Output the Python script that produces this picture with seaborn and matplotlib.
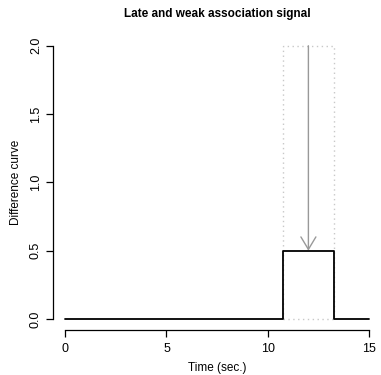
import numpy as np
import pandas as pd
import seaborn as sns
import matplotlib
matplotlib.use('Agg')
import matplotlib.pyplot as plt
from matplotlib.patches import Rectangle

# data: step curve breakpoints
time_sec = [0, 10.75, 13.25, 15]
diff_curve = [0.0, 0.5, 0.0, 0.0]
# window of the signal and arrow
win_start, win_end, win_top = 10.75, 13.25, 2.0
arrow_x, arrow_from, arrow_to = 12.0, 2.0, 0.5
x_ticks = [0, 5, 10, 15]
y_ticks = [0.0, 0.5, 1.0, 1.5, 2.0]

sns.set_theme(style="ticks")
plt.rcParams['font.family'] = ['Liberation Sans', 'DejaVu Sans']
plt.rcParams['text.color'] = 'black'
plt.rcParams['axes.labelcolor'] = 'black'
plt.rcParams['xtick.color'] = 'black'
plt.rcParams['ytick.color'] = 'black'

df = pd.DataFrame({'time': time_sec, 'diff': diff_curve})

fig = plt.figure(figsize=(3.81, 3.75), dpi=100)
ax = fig.add_axes([0.139, 0.12, 0.862, 0.787])

# dotted window
ax.add_patch(Rectangle((win_start, 0), win_end - win_start, win_top, fill=False,
                       edgecolor='#c8c8c8', linestyle=(0, (1, 2.5)), linewidth=1.0, zorder=1))

sns.lineplot(data=df, x='time', y='diff', drawstyle='steps-post', color='black',
             linewidth=1.3, ax=ax, zorder=3)

ax.annotate('', xy=(arrow_x, arrow_to), xytext=(arrow_x, arrow_from),
            arrowprops=dict(arrowstyle='->,head_length=0.45,head_width=0.27', color='#999999',
                            linewidth=1.0, shrinkA=0, shrinkB=0, mutation_scale=20), zorder=2)

ax.set_xlim(-0.6, 15.6)
ax.set_ylim(-0.08, 2.08)
ax.set_xticks(x_ticks)
ax.set_xticklabels([str(t) for t in x_ticks])
ax.set_yticks(y_ticks)
ax.set_yticklabels([f'{t:.1f}' for t in y_ticks], rotation=90, va='center')
ax.spines['top'].set_visible(False)
ax.spines['right'].set_visible(False)
ax.spines['left'].set_bounds(0, 2)
ax.spines['bottom'].set_bounds(0, 15)
for s in ['left', 'bottom']:
    ax.spines[s].set_linewidth(0.9)
    ax.spines[s].set_color('black')
ax.tick_params(axis='both', length=5, width=0.9, labelsize=9)
ax.tick_params(axis='x', pad=4)
ax.tick_params(axis='y', pad=3)

ax.set_xlabel('Time (sec.)', fontsize=8.5, labelpad=5.5)
ax.set_ylabel('Difference curve', fontsize=8.5, labelpad=6)
ax.set_title('Late and weak association signal', fontsize=8.5, fontweight='bold', pad=13)

fig.savefig('out.png', dpi=100)
